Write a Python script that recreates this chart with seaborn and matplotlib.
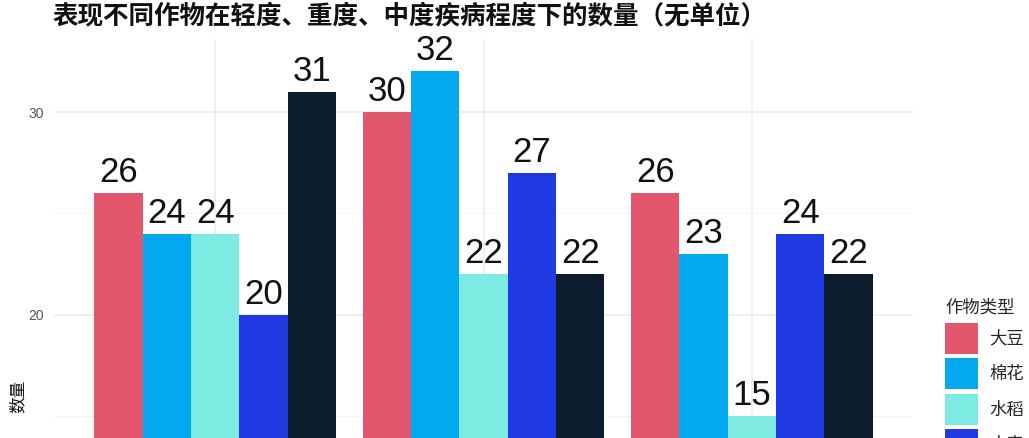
import pandas as pd
import seaborn as sns
import matplotlib
matplotlib.use("Agg")
from matplotlib import pyplot as plt
from matplotlib.ticker import MultipleLocator

# data
levels = ["轻度", "重度", "中度"]
crops = ["大豆", "棉花", "水稻", "小麦", "玉米"]
soybean = [26, 30, 26]
cotton = [24, 32, 23]
rice = [24, 22, 15]
wheat = [20, 27, 24]
corn = [31, 22, 22]
colors = ["#E2566E", "#03A9EF", "#7DEBE2", "#1F3AE2", "#0B1C2C"]

rows = []
for crop, vals in zip(crops, [soybean, cotton, rice, wheat, corn]):
    for lvl, v in zip(levels, vals):
        rows.append({"程度": lvl, "作物类型": crop, "数量": v})
df = pd.DataFrame(rows)

sns.set_theme(style="white")
plt.rcParams["font.family"] = ["Noto Sans CJK SC", "DejaVu Sans"]

fig = plt.figure(figsize=(10.29, 4.38), dpi=100)
# the reference is cropped at the bottom, so the axes run past the figure edge
ax = fig.add_axes([54 / 1029, 1 - 753 / 438, (913 - 54) / 1029, (753 - 39) / 438])

sns.barplot(data=df, x="程度", y="数量", hue="作物类型", hue_order=crops,
            palette=colors, saturation=1, width=0.9, linewidth=0, ax=ax)

for cont in ax.containers:
    ax.bar_label(cont, padding=3, fontsize=25, fontfamily="Liberation Sans", color="#111111")

ax.set_xlim(-0.6, 2.6)
ax.set_ylim(-1.6, 33.6)
ax.yaxis.set_major_locator(MultipleLocator(10))
ax.yaxis.set_minor_locator(MultipleLocator(5))
ax.grid(axis="y", which="major", color="#EBEBEB", lw=1.1)
ax.grid(axis="y", which="minor", color="#F2F2F2", lw=0.6)
ax.grid(axis="x", which="major", color="#EBEBEB", lw=1.1)
ax.set_axisbelow(True)
for s in ax.spines.values():
    s.set_visible(False)
ax.tick_params(axis="both", length=0, pad=7.5, labelsize=10, labelcolor="#555555")
# category labels sit below the cropped area of the reference
ax.tick_params(axis="x", labelbottom=False)
for t in ax.get_yticklabels():
    t.set_fontfamily("Liberation Sans")
ax.set_xlabel("")
ax.set_ylabel("数量", fontsize=12, labelpad=1, color="#111111")

handles, labels = ax.get_legend_handles_labels()
leg = ax.legend(handles, labels, title="作物类型", loc="upper left",
                bbox_to_anchor=(945 / 1029, 1 - 298 / 438), bbox_transform=fig.transFigure,
                frameon=False, fontsize=12.5, title_fontsize=12.5,
                handlelength=1.9, handleheight=2.37, handletextpad=0.65,
                labelspacing=0.26, borderpad=0, borderaxespad=0, alignment="left")
leg._legend_box.sep = 5

fig.text(53 / 1029, 1 - 16 / 438, "表现不同作物在轻度、重度、中度疾病程度下的数量（无单位）",
         fontsize=18.4, fontweight="bold", va="center", ha="left", color="#111111")

fig.savefig("out.png", dpi=100)
